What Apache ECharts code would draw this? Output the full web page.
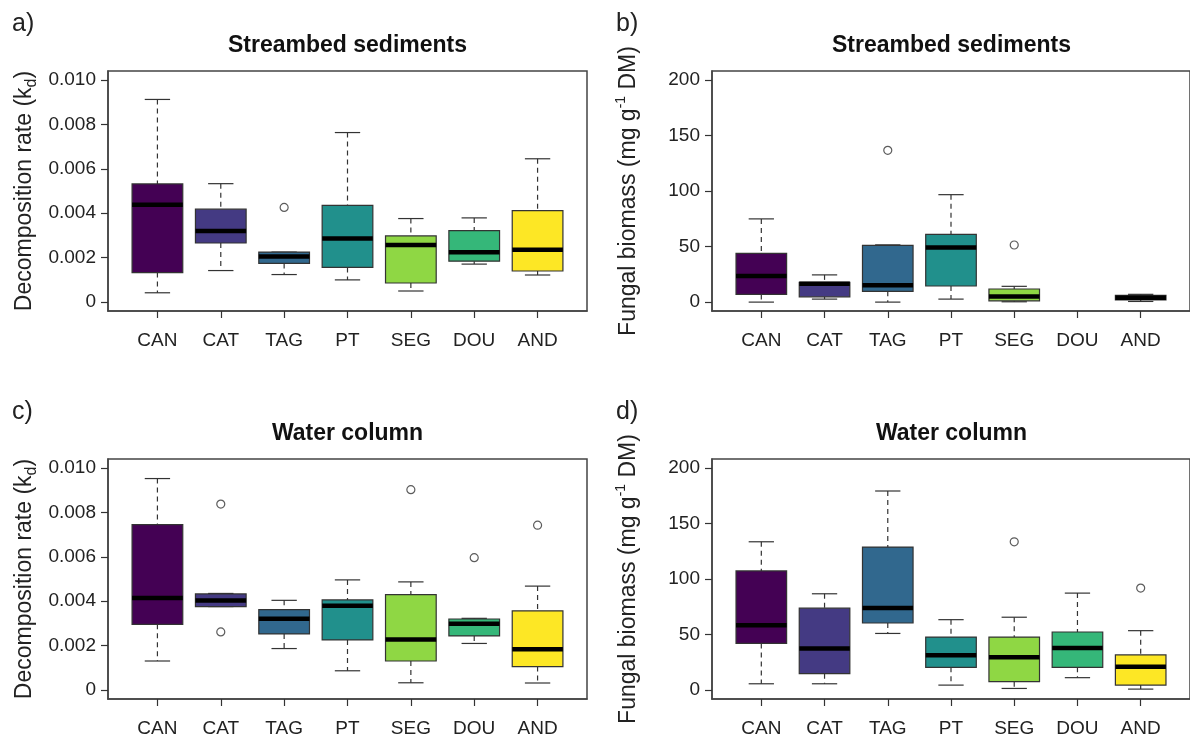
<!DOCTYPE html>
<html>
<head>
<meta charset="utf-8">
<script src="https://cdn.jsdelivr.net/npm/echarts@6/dist/echarts.min.js"></script>
<style>
  html, body { margin: 0; padding: 0; background: #fff; }
  #chart { width: 1190px; height: 738px; }
</style>
</head>
<body>
<div id="chart"></div>
<script>
const sites = ["CAN", "CAT", "TAG", "PT", "SEG", "DOU", "AND"];
const palette = ["#440154", "#443A83", "#31688E", "#21908C", "#8FD744", "#35B779", "#FDE725"];

// [lower whisker, Q1, median, Q3, upper whisker] per site
const sedDecomp = [
  [0.00042, 0.00133, 0.00438, 0.00532, 0.00912],
  [0.00142, 0.00266, 0.00320, 0.00418, 0.00533],
  [0.00124, 0.00174, 0.00205, 0.00225, 0.00225],
  [0.00100, 0.00156, 0.00286, 0.00435, 0.00763],
  [0.00050, 0.00086, 0.00257, 0.00298, 0.00376],
  [0.00171, 0.00184, 0.00224, 0.00322, 0.00379],
  [0.00122, 0.00140, 0.00236, 0.00412, 0.00645],
];
const sedDecompOut = [["TAG", 0.00426]];

const sedBiomass = [
  [0, 6.9, 23.6, 43.8, 74.9],
  [2.7, 4.8, 16.6, 17.8, 24.5],
  [0, 9.7, 15.1, 51, 51.5],
  [2.7, 14.5, 49.2, 61, 96.7],
  [0.3, 1.2, 5.1, 11.8, 14.2],
  null,
  [0.6, 2.1, 3.9, 6, 7],
];
const sedBiomassOut = [["TAG", 136.6], ["SEG", 51.4]];

const waterDecomp = [
  [0.00131, 0.00296, 0.00415, 0.00745, 0.00952],
  [0.00376, 0.00376, 0.00403, 0.00433, 0.00435],
  [0.00187, 0.00253, 0.00321, 0.00362, 0.00404],
  [0.00087, 0.00226, 0.00380, 0.00406, 0.00496],
  [0.00033, 0.00131, 0.00228, 0.00430, 0.00487],
  [0.00210, 0.00244, 0.00299, 0.00320, 0.00323],
  [0.00032, 0.00106, 0.00184, 0.00357, 0.00468],
];
const waterDecompOut = [["CAT", 0.00837], ["CAT", 0.00262], ["SEG", 0.00902], ["DOU", 0.00596], ["AND", 0.00742]];

const waterBiomass = [
  [5.7, 42, 58.3, 107.3, 133.5],
  [5.7, 14.8, 37.5, 73.7, 86.7],
  [51, 60.4, 74, 128.7, 179.2],
  [4.5, 20.5, 31.4, 47.7, 63.4],
  [1.5, 7.6, 29.6, 47.7, 65.6],
  [11.2, 20.5, 37.8, 52.3, 87.3],
  [0.9, 4.5, 21.1, 31.7, 53.5],
];
const waterBiomassOut = [["SEG", 133.5], ["AND", 91.8]];

const decompTicks = [0, 0.002, 0.004, 0.006, 0.008, 0.010];
const biomassTicks = [0, 50, 100, 150, 200];
const siteTicks = [1, 2, 3, 4, 5, 6, 7];

const FONT = "'Liberation Sans', Arial, sans-serif";
const INK = "#222";
const EDGE = "#333";

const chart = echarts.init(document.getElementById("chart"));

const panels = [
  { left: 108, top: 71, data: sedDecomp, out: sedDecompOut, kind: "k", tag: "a)", title: "Streambed sediments" },
  { left: 712, top: 71, data: sedBiomass, out: sedBiomassOut, kind: "b", tag: "b)", title: "Streambed sediments" },
  { left: 108, top: 459, data: waterDecomp, out: waterDecompOut, kind: "k", tag: "c)", title: "Water column" },
  { left: 712, top: 459, data: waterBiomass, out: waterBiomassOut, kind: "b", tag: "d)", title: "Water column" },
];
const W = 479, H = 240;

function renderBox(params, api) {
  const x = api.value(0);
  const y = (v) => api.coord([x, v])[1];
  const cx = api.coord([x, api.value(3)])[0];
  const half = api.size([0.4, 0])[0];
  const cap = half / 2;
  const lo = y(api.value(1)), q1 = y(api.value(2)), md = y(api.value(3)), q3 = y(api.value(4)), hi = y(api.value(5));
  const dash = { stroke: EDGE, lineWidth: 1.2, lineDash: [5, 4] };
  const solid = { stroke: EDGE, lineWidth: 1.2 };
  return {
    type: "group",
    children: [
      { type: "line", shape: { x1: cx, y1: hi, x2: cx, y2: q3 }, style: dash },
      { type: "line", shape: { x1: cx, y1: q1, x2: cx, y2: lo }, style: dash },
      { type: "line", shape: { x1: cx - cap, y1: hi, x2: cx + cap, y2: hi }, style: solid },
      { type: "line", shape: { x1: cx - cap, y1: lo, x2: cx + cap, y2: lo }, style: solid },
      { type: "rect", shape: { x: cx - half, y: q3, width: half * 2, height: q1 - q3 },
        style: { fill: api.visual("color"), stroke: EDGE, lineWidth: 1.2 } },
      { type: "line", shape: { x1: cx - half, y1: md, x2: cx + half, y2: md }, style: { stroke: "#000", lineWidth: 4.5 } },
    ],
  };
}

const grids = [], xAxes = [], yAxes = [], series = [], graphics = [];

panels.forEach((p, i) => {
  grids.push({ left: p.left, top: p.top, width: W, height: H, show: true, borderColor: "#444", borderWidth: 1.5 });
  xAxes.push({
    gridIndex: i, type: "value", min: 0.22, max: 7.78,
    axisLine: { show: true, onZero: false, lineStyle: { color: "#444", width: 1.5 } },
    axisTick: { customValues: siteTicks, length: 7, lineStyle: { color: EDGE, width: 1.2 } },
    axisLabel: { customValues: siteTicks, margin: 20, fontSize: 19, color: INK, fontFamily: FONT,
      formatter: (v) => sites[Math.round(v) - 1] },
    splitLine: { show: false },
  });
  const isK = p.kind === "k";
  const ticks = isK ? decompTicks : biomassTicks;
  yAxes.push({
    gridIndex: i, type: "value",
    min: isK ? -0.0004 : -8, max: isK ? 0.0104 : 208,
    axisLine: { show: true, onZero: false, lineStyle: { color: "#444", width: 1.5 } },
    axisTick: { customValues: ticks, length: 7, lineStyle: { color: EDGE, width: 1.2 } },
    axisLabel: { customValues: ticks, margin: 12, fontSize: 19, color: INK, fontFamily: FONT,
      formatter: (v) => (isK ? (v === 0 ? "0" : v.toFixed(3)) : String(Math.round(v))) },
    splitLine: { show: false },
    name: isK ? "Decomposition rate (k{s|d})" : "Fungal biomass (mg g{p|-1} DM)",
    nameLocation: "middle", nameGap: 68,
    nameTextStyle: {
      fontSize: 23, color: INK, fontFamily: FONT, lineHeight: 30,
      rich: {
        s: { fontSize: 16, color: INK, fontFamily: FONT, verticalAlign: "bottom", lineHeight: 20 },
        p: { fontSize: 14, color: INK, fontFamily: FONT, verticalAlign: "top", lineHeight: 18 },
      },
    },
  });
  series.push({
    type: "custom", xAxisIndex: i, yAxisIndex: i, renderItem: renderBox, clip: false,
    encode: { x: 0, y: [1, 2, 3, 4, 5] },
    data: p.data.map((d, j) => (d ? { value: [j + 1, ...d], itemStyle: { color: palette[j] } } : null)).filter(Boolean),
  });
  series.push({
    type: "scatter", xAxisIndex: i, yAxisIndex: i, symbol: "circle", symbolSize: 8,
    itemStyle: { color: "#fff", borderColor: EDGE, borderWidth: 1.2 },
    data: p.out.map(([s, v]) => [sites.indexOf(s) + 1, v]),
  });
  graphics.push({
    type: "text", x: p.left - 96, y: p.top - 47,
    style: { text: p.tag, font: "25px " + FONT, fill: INK, textVerticalAlign: "middle" },
  });
  graphics.push({
    type: "text", x: p.left + W / 2, y: p.top - 25,
    style: { text: p.title, font: "bold 23px " + FONT, fill: "#111", textAlign: "center", textVerticalAlign: "middle" },
  });
});

chart.setOption({
  animation: false,
  backgroundColor: "#fff",
  grid: grids,
  xAxis: xAxes,
  yAxis: yAxes,
  series: series,
  graphic: graphics,
});
</script>
</body>
</html>
